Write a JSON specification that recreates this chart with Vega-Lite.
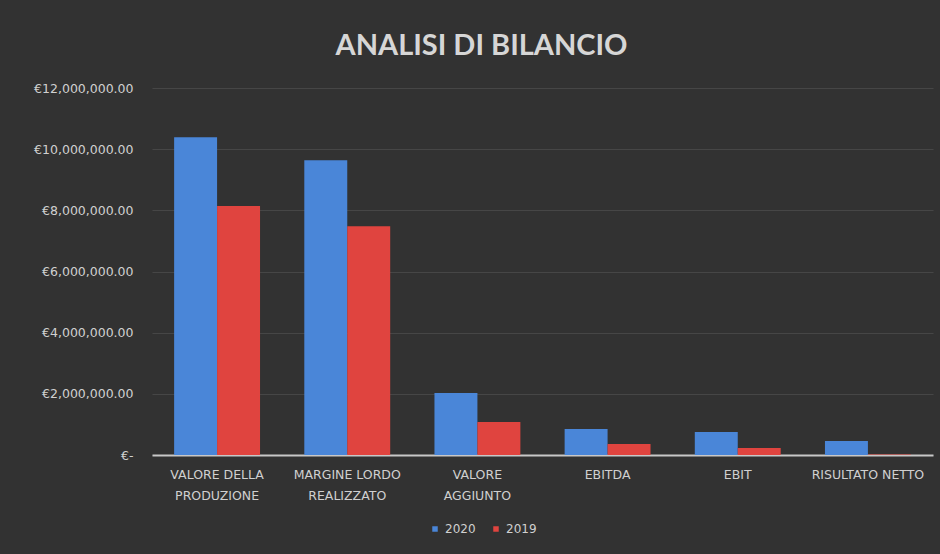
{
  "$schema": "https://vega.github.io/schema/vega-lite/v6.json",
  "autosize": "none",
  "width": 781,
  "height": 367,
  "padding": {"left": 152, "top": 88, "right": 7, "bottom": 99},
  "background": "#323232",
  "title": {
    "text": "ANALISI DI BILANCIO",
    "font": "Lato",
    "fontSize": 29,
    "fontWeight": "bold",
    "limit": 0,
    "color": "#d6d6d6",
    "anchor": "middle",
    "frame": "group",
    "dx": -61,
    "offset": 21
  },
  "data": {
    "values": [
      {"categoria": "VALORE DELLA PRODUZIONE", "anno": "2020", "valore": 10390000},
      {"categoria": "VALORE DELLA PRODUZIONE", "anno": "2019", "valore": 8140000},
      {"categoria": "MARGINE LORDO REALIZZATO", "anno": "2020", "valore": 9640000},
      {"categoria": "MARGINE LORDO REALIZZATO", "anno": "2019", "valore": 7480000},
      {"categoria": "VALORE AGGIUNTO", "anno": "2020", "valore": 2030000},
      {"categoria": "VALORE AGGIUNTO", "anno": "2019", "valore": 1080000},
      {"categoria": "EBITDA", "anno": "2020", "valore": 850000},
      {"categoria": "EBITDA", "anno": "2019", "valore": 360000},
      {"categoria": "EBIT", "anno": "2020", "valore": 750000},
      {"categoria": "EBIT", "anno": "2019", "valore": 230000},
      {"categoria": "RISULTATO NETTO", "anno": "2020", "valore": 460000},
      {"categoria": "RISULTATO NETTO", "anno": "2019", "valore": 20000}
    ]
  },
  "mark": {"type": "bar"},
  "encoding": {
    "x": {
      "field": "categoria",
      "type": "nominal",
      "sort": null,
      "scale": {"paddingInner": 0.34, "paddingOuter": 0.17},
      "axis": {
        "title": null,
        "labelAngle": 0,
        "labelColor": "#d0d0d0",
        "labelFont": "DejaVu Sans",
        "labelFontSize": 12.5,
        "labelPadding": 13,
        "labelLineHeight": 21,
        "labelLimit": 0,
        "ticks": false,
        "domainColor": "#c8c8c8",
        "domainWidth": 2,
        "labelExpr": "datum.label == 'VALORE DELLA PRODUZIONE' ? ['VALORE DELLA', 'PRODUZIONE'] : datum.label == 'MARGINE LORDO REALIZZATO' ? ['MARGINE LORDO', 'REALIZZATO'] : datum.label == 'VALORE AGGIUNTO' ? ['VALORE', 'AGGIUNTO'] : datum.label"
      }
    },
    "xOffset": {"field": "anno", "type": "nominal", "sort": ["2020", "2019"], "scale": {"paddingInner": 0}},
    "y": {
      "field": "valore",
      "type": "quantitative",
      "scale": {"domain": [0, 12000000]},
      "axis": {
        "title": null,
        "values": [0, 2000000, 4000000, 6000000, 8000000, 10000000, 12000000],
        "labelExpr": "datum.value == 0 ? '€-' : '€' + format(datum.value, ',.2f')",
        "labelColor": "#d0d0d0",
        "labelFont": "DejaVu Sans",
        "labelFontSize": 12.5,
        "labelPadding": 19,
        "labelLimit": 0,
        "ticks": false,
        "domain": false,
        "gridColor": "#464646",
        "gridWidth": 1
      }
    },
    "color": {
      "field": "anno",
      "type": "nominal",
      "sort": ["2020", "2019"],
      "scale": {"domain": ["2020", "2019"], "range": ["#4a86d8", "#e0443f"]},
      "legend": {
        "title": null,
        "orient": "none",
        "legendX": 277,
        "legendY": 435,
        "direction": "horizontal",
        "symbolType": "square",
        "symbolSize": 30,
        "labelColor": "#d0d0d0",
        "labelFont": "DejaVu Sans",
        "labelFontSize": 12,
        "columnPadding": 14
      }
    }
  },
  "config": {"view": {"stroke": null}}
}
